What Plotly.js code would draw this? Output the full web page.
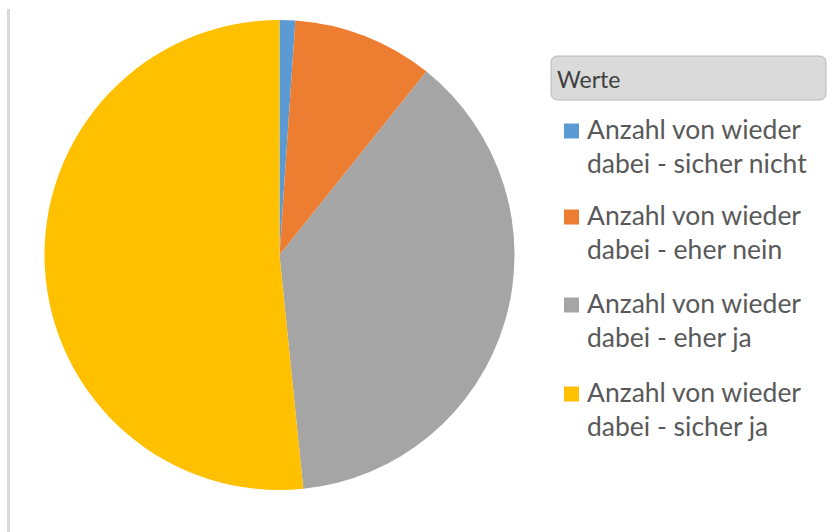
<!DOCTYPE html>
<html>
<head>
<meta charset="utf-8">
<script src="https://cdn.plot.ly/plotly-3.0.1.min.js"></script>
<style>html,body{margin:0;padding:0;background:#fff;}#chart{width:835px;height:532px;}</style>
</head>
<body>
<div id="chart"></div>
<script>
// Data
const categories = [
  "Anzahl von wieder dabei - sicher nicht",
  "Anzahl von wieder dabei - eher nein",
  "Anzahl von wieder dabei - eher ja",
  "Anzahl von wieder dabei - sicher ja"
];
const values = [1, 9, 35, 48];
const colors = ["#5B9BD5", "#ED7D31", "#A5A5A5", "#FFC000"];
const legendTitle = "Werte";

const W = 835, H = 532;
const px = x => x / W;
const py = y => 1 - y / H;

// pie geometry (pixels)
const cx = 279.5, cy = 255, r = 235;

const trace = {
  type: "pie",
  labels: categories,
  values: values,
  marker: {colors: colors, line: {width: 0}},
  sort: false,
  direction: "clockwise",
  rotation: 0,
  textinfo: "none",
  hoverinfo: "label+value+percent",
  showlegend: false,
  domain: {x: [px(cx - r), px(cx + r)], y: [py(cy + r), py(cy - r)]}
};

const shapes = [];
const annotations = [];

// left border line
shapes.push({type: "line", xref: "paper", yref: "paper",
  x0: px(8.5), x1: px(8.5), y0: py(9), y1: py(532),
  line: {color: "#D9D9D9", width: 3}});

// "Werte" button
(function(){
  const x0 = 551, x1 = 826, y0 = 56, y1 = 100, rr = 7;
  const P = (x, y) => px(x) + "," + py(y);
  const path = "M" + P(x0 + rr, y0) + " L" + P(x1 - rr, y0) + " Q" + P(x1, y0) + " " + P(x1, y0 + rr) +
    " L" + P(x1, y1 - rr) + " Q" + P(x1, y1) + " " + P(x1 - rr, y1) +
    " L" + P(x0 + rr, y1) + " Q" + P(x0, y1) + " " + P(x0, y1 - rr) +
    " L" + P(x0, y0 + rr) + " Q" + P(x0, y0) + " " + P(x0 + rr, y0) + " Z";
  shapes.push({type: "path", xref: "paper", yref: "paper", path: path,
    fillcolor: "#DADADA", line: {color: "#B9B9B9", width: 1}});
  annotations.push({xref: "paper", yref: "paper", x: px(555), y: py(79), xanchor: "left", yanchor: "middle",
    text: legendTitle, showarrow: false, font: {family: "Lato, 'Open Sans', sans-serif", size: 23, color: "#3F3F3F"}});
})();

// legend entries
const itemCenters = [146, 232, 320, 409];
categories.forEach((c, i) => {
  const idx = c.indexOf(" dabei");
  const txt = c.slice(0, idx) + "<br>" + c.slice(idx + 1);
  const yc = itemCenters[i];
  const sq = 15;
  shapes.push({type: "rect", xref: "paper", yref: "paper",
    x0: px(564), x1: px(564 + sq), y0: py(yc - 15 + sq / 2), y1: py(yc - 15 - sq / 2),
    fillcolor: colors[i], line: {width: 0}});
  annotations.push({xref: "paper", yref: "paper", x: px(585), y: py(yc), xanchor: "left", yanchor: "middle",
    align: "left", text: txt, showarrow: false,
    font: {family: "Lato, 'Open Sans', sans-serif", size: 26.5, color: "#595959"}});
});

const layout = {
  width: W, height: H,
  margin: {l: 0, r: 0, t: 0, b: 0},
  paper_bgcolor: "#FFFFFF",
  showlegend: false,
  shapes: shapes,
  annotations: annotations
};

Plotly.newPlot("chart", [trace], layout, {displayModeBar: false, staticPlot: true});
</script>
</body>
</html>
